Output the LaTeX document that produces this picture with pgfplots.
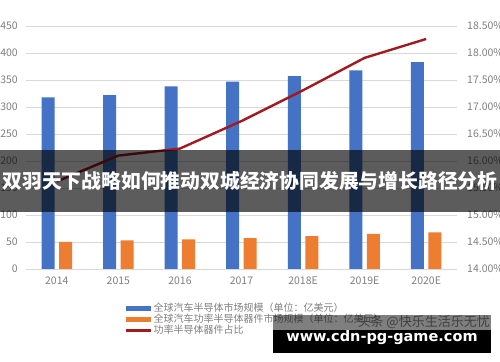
\documentclass[border=0pt]{standalone}
\usepackage{pgfplots}
\pgfplotsset{compat=1.18}
\usepackage{fontspec}
\setmainfont{Noto Sans CJK SC}
\newfontfamily\urlfont{DejaVu Sans}
\definecolor{cblue}{HTML}{4472C4}
\definecolor{corange}{HTML}{ED7D31}
\definecolor{cred}{HTML}{9E1B22}
\definecolor{cgrid}{HTML}{D9D9D9}
\definecolor{ctext}{HTML}{808080}
\begin{document}
\begin{tikzpicture}
\useasboundingbox (0,0) rectangle (500bp,362bp);
\clip (0,0) rectangle (500bp,362bp);
\fill[white] (0,0) rectangle (500bp,362bp);
\begin{axis}[
  at={(26bp,93bp)}, anchor=south west,
  scale only axis, width=431bp, height=243bp,
  xmin=-0.5, xmax=6.5, ymin=0, ymax=450,
  xtick={0,1,2,3,4,5,6},
  xticklabels={2014,2015,2016,2017,2018E,2019E,2020E},
  ytick={0,50,...,450},
  axis y line*=left, axis x line*=bottom,
  axis line style={draw=none},
  ymajorgrids, grid style={cgrid, line width=0.8bp},
  major tick length=0pt,
  /pgf/number format/assume math mode=true,
  tick label style={font=\fontsize{10.5bp}{12bp}\selectfont, text=ctext},
  yticklabel style={anchor=east, inner sep=0pt, xshift=-8bp},
  xticklabel style={anchor=north, inner sep=0pt, yshift=-8bp},
  clip=false,
]
\addplot[ybar, bar width=13bp, bar shift=-8.75bp, fill=cblue, draw=none]
  coordinates {(0,318) (1,322) (2,338) (3,347) (4,357) (5,368) (6,383)};
\addplot[ybar, bar width=13bp, bar shift=8.75bp, fill=corange, draw=none]
  coordinates {(0,50) (1,53) (2,55) (3,57) (4,61) (5,65) (6,68)};
\end{axis}
\begin{axis}[
  at={(26bp,93bp)}, anchor=south west,
  scale only axis, width=431bp, height=243bp,
  xmin=-0.5, xmax=6.5, ymin=14, ymax=18.5,
  ytick={14,14.5,...,18.5},
  axis y line*=right, axis x line=none,
  axis line style={draw=none},
  major tick length=0pt,
  /pgf/number format/assume math mode=true,
  yticklabel={\pgfmathprintnumber[fixed,fixed zerofill,precision=2]{\tick}\%},
  tick label style={font=\fontsize{10.5bp}{12bp}\selectfont, text=ctext},
  yticklabel style={anchor=west, inner sep=0pt, xshift=10bp},
  clip=false,
  legend style={at={(axis description cs:0.225,-0.14)}, anchor=north west,
    draw=none, fill=none, inner sep=0pt,
    font=\fontsize{10bp}{11bp}\selectfont, text=ctext,
    nodes={inner sep=0.4bp, text height=8bp, text depth=2bp},
    row sep=0pt},
  legend cell align=left,
]
\addlegendimage{legend image code/.code={\draw[cblue, line width=5bp] (0bp,0bp) -- (25bp,0bp);}}
\addlegendentry{全球汽车半导体市场规模（单位：亿美元）}
\addlegendimage{legend image code/.code={\draw[corange, line width=5bp] (0bp,0bp) -- (25bp,0bp);}}
\addlegendentry{全球汽车功率半导体器件市场规模（单位：亿美元）}
\addlegendimage{legend image code/.code={\draw[cred, line width=3bp] (0bp,0bp) -- (25bp,0bp);}}
\addlegendentry{功率半导体器件占比}
\addplot[cred, line width=2.4bp, mark=none, forget plot]
  coordinates {(0,15.62) (1,16.10) (2,16.23) (3,16.74) (4,17.31) (5,17.91) (6,18.26)};
\end{axis}
% overlays
\fill[black, opacity=0.64] (0,150bp) rectangle (500bp,212bp);
\node[text=white, inner sep=0pt] at (250bp,181bp)
  {\fontsize{19.8bp}{22bp}\selectfont\bfseries 双羽天下战略如何推动双城经济协同发展与增长路径分析};
\fill[black, opacity=0.5] (273bp,32bp) rectangle (491bp,47bp);
\fill[black] (273bp,9bp) rectangle (491bp,32bp);
\node[text=black!75, inner sep=0pt, anchor=east] at (490bp,40bp)
  {\fontsize{13bp}{14bp}\selectfont 头条 @快乐生活乐无忧};
\node[text=white, inner sep=0pt] at (382bp,24bp)
  {\urlfont\bfseries\fontsize{14.5bp}{16bp}\selectfont www.cdn-pg-game.com};
\end{tikzpicture}
\end{document}
